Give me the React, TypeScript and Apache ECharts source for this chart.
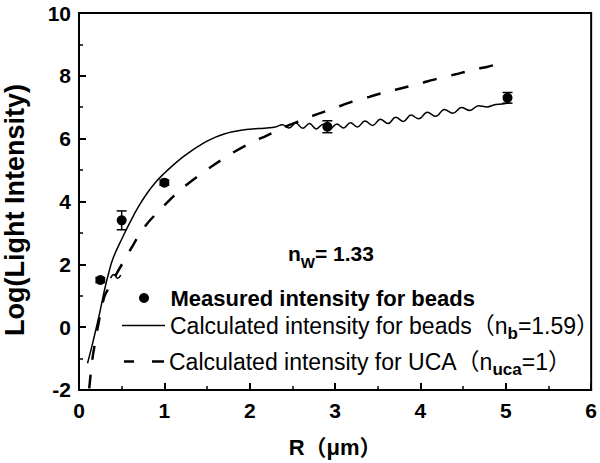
import React, { useEffect, useRef } from 'react';
import * as echarts from 'echarts';

const FONT = '"Liberation Sans", Arial, "Noto Sans CJK SC", sans-serif';

// Measured intensity for beads
const measuredR = [0.25, 0.5, 1.0, 2.91, 5.02];
const measuredLog = [1.5, 3.4, 4.6, 6.38, 7.3];
const measuredErr = [0.08, 0.3, 0.08, 0.19, 0.17];

// Calculated intensity for beads (solid)
const beadsR = [0.10, 0.15, 0.20, 0.25, 0.30, 0.35, 0.40, 0.50, 0.60, 0.70, 0.80, 0.90, 1.00, 1.10, 1.20, 1.30, 1.40,
  1.50, 1.60, 1.70, 1.80, 1.90, 2.00, 2.10, 2.20,
  2.30, 2.38, 2.46, 2.54, 2.62, 2.70, 2.78, 2.86, 2.94, 3.02, 3.10, 3.18, 3.26, 3.35, 3.44, 3.53, 3.62, 3.71, 3.80,
  3.89, 3.98, 4.08, 4.18, 4.28, 4.38, 4.48, 4.58, 4.68, 4.78, 4.88, 4.96, 5.04];
const beadsLog = [-1.15, -0.62, -0.05, 0.55, 1.2, 1.75, 2.2, 2.8, 3.35, 3.85, 4.27, 4.62, 4.9, 5.15, 5.38, 5.58, 5.76,
  5.92, 6.05, 6.15, 6.22, 6.27, 6.30, 6.32, 6.34,
  6.37, 6.44, 6.34, 6.50, 6.33, 6.48, 6.31, 6.46, 6.31, 6.47, 6.34, 6.51, 6.37, 6.56, 6.42, 6.62, 6.48, 6.68, 6.55,
  6.75, 6.63, 6.84, 6.71, 6.93, 6.81, 6.99, 6.90, 7.05, 7.01, 7.09, 7.10, 7.14];

// small squiggle of the solid curve
const squiggleR = [0.37, 0.41, 0.45, 0.49];
const squiggleLog = [1.56, 1.68, 1.56, 1.66];

// Calculated intensity for UCA (dashed)
const ucaR = [0.12, 0.15, 0.18, 0.22, 0.26, 0.30, 0.35, 0.45, 0.55, 0.62, 0.70, 0.80, 0.90, 1.00, 1.10, 1.20, 1.40, 1.60,
  1.80, 2.00, 2.20, 2.40, 2.60, 2.80, 3.00, 3.20, 3.40, 3.60, 3.80, 4.00, 4.20, 4.40, 4.60, 4.80, 4.92];
const ucaLog = [-1.95, -1.15, -0.62, 0.0, 0.55, 1.0, 1.25, 1.75, 2.22, 2.55, 2.92, 3.3, 3.6, 3.88, 4.15, 4.4, 4.82, 5.2,
  5.55, 5.85, 6.1, 6.36, 6.58, 6.79, 6.98, 7.18, 7.33, 7.49, 7.62, 7.76, 7.91, 8.04, 8.18, 8.3, 8.38];

const NAME1 = 'Measured intensity for beads';
const NAME2 = 'Calculated intensity for beads';
const NAME3 = 'Calculated intensity for UCA';

const zip = (a: number[], b: number[]) => a.map((v, i) => [v, b[i]]);

export default function App() {
  const ref = useRef<HTMLDivElement>(null);
  useEffect(() => {
    const chart = echarts.init(ref.current!, undefined, { renderer: 'svg' });
    const subRich = {
      t: { fontSize: 23, fontFamily: FONT, color: '#000', lineHeight: 32, verticalAlign: 'middle' },
      s: { fontSize: 17, fontWeight: 'bold', fontFamily: FONT, color: '#000', lineHeight: 17, verticalAlign: 'bottom' },
    };
    const axisCommon = {
      axisLine: { show: true, onZero: false, lineStyle: { color: '#000', width: 2 } },
      axisTick: { show: true, inside: true, length: 7, lineStyle: { color: '#000', width: 2 } },
      minorTick: { show: true, splitNumber: 2, length: 4, lineStyle: { color: '#000', width: 1.5 } },
      splitLine: { show: false },
      axisLabel: { color: '#000', fontSize: 21, fontWeight: 'bold', fontFamily: FONT },
    };
    chart.setOption({
      animation: false,
      backgroundColor: '#fff',
      grid: { left: 79, right: 7, top: 13, bottom: 67, show: true, borderColor: '#000', borderWidth: 2, backgroundColor: 'transparent' },
      xAxis: {
        type: 'value', min: 0, max: 6, interval: 1,
        ...axisCommon,
        axisLabel: { ...axisCommon.axisLabel, margin: 10 },
        name: 'R（μm）', nameLocation: 'middle', nameGap: 46,
        nameTextStyle: { color: '#000', fontSize: 22, fontWeight: 'bold', fontFamily: FONT },
      },
      yAxis: {
        type: 'value', min: -2, max: 10, interval: 2,
        ...axisCommon,
        axisLabel: { ...axisCommon.axisLabel, margin: 8 },
      },
      legend: [
        {
          data: [{ name: NAME1, icon: 'circle' }], left: 139, top: 287, padding: 0,
          itemWidth: 43, itemHeight: 10, selectedMode: false,
          textStyle: { color: '#000', fontSize: 22, fontWeight: 'bold', fontFamily: FONT },
        },
        {
          data: [{ name: NAME2, icon: 'path://M0,0H43V1.5H0Z' }], left: 122, top: 314, padding: 0,
          itemWidth: 43, itemHeight: 1.5, selectedMode: false,
          formatter: () => '{t|Calculated intensity for beads（n}{s|b}{t|=1.59）}',
          textStyle: { color: '#000', fontFamily: FONT, rich: subRich },
        },
        {
          data: [{ name: NAME3, icon: 'path://M0,0H10V2.5H0Z M28,0H40V2.5H28Z' }], left: 124, top: 350, padding: 0,
          itemWidth: 40, itemHeight: 2.5, selectedMode: false,
          formatter: () => '{t|Calculated intensity for UCA（n}{s|uca}{t|=1）}',
          textStyle: { color: '#000', fontFamily: FONT, rich: subRich },
        },
      ],
      graphic: [
        {
          type: 'text', x: 288, y: 253,
          style: {
            text: '{n|n}{s|W}{n|= 1.33}',
            align: 'left', verticalAlign: 'middle',
            rich: {
              n: { fontSize: 21, fontWeight: 'bold', fontFamily: FONT, fill: '#000', lineHeight: 34, verticalAlign: 'middle' },
              s: { fontSize: 15, fontWeight: 'bold', fontFamily: FONT, fill: '#000', lineHeight: 15, verticalAlign: 'bottom' },
            },
          },
        },
        {
          type: 'text', x: 15, y: 210, rotation: Math.PI / 2,
          style: {
            text: 'Log(Light Intensity)', align: 'center', verticalAlign: 'middle',
            fontSize: 27, fontWeight: 'bold', fontFamily: FONT, fill: '#000',
          },
        },
      ],
      series: [
        {
          name: NAME2, type: 'line', data: zip(beadsR, beadsLog), smooth: 0.4, symbol: 'none',
          lineStyle: { color: '#000', width: 1.5 }, itemStyle: { color: '#000' }, z: 3,
        },
        {
          name: 'squiggle', type: 'line', data: zip(squiggleR, squiggleLog), smooth: 0.5, symbol: 'none',
          lineStyle: { color: '#000', width: 1.5 }, itemStyle: { color: '#000' }, z: 3,
        },
        {
          name: NAME3, type: 'line', data: zip(ucaR, ucaLog), smooth: 0.3, symbol: 'none',
          lineStyle: { color: '#000', width: 2.5, type: [14, 15] }, itemStyle: { color: '#000' }, z: 3,
        },
        {
          name: 'errors', type: 'custom', z: 4,
          data: measuredR.map((r, i) => [r, measuredLog[i], measuredErr[i]]),
          encode: { x: 0, y: 1 },
          renderItem: (params: any, api: any) => {
            const x = api.value(0), y = api.value(1), e = api.value(2);
            const hi = api.coord([x, y + e]);
            const lo = api.coord([x, y - e]);
            const w = 5;
            const st = { stroke: '#000', lineWidth: 1.5 };
            return {
              type: 'group',
              children: [
                { type: 'line', shape: { x1: hi[0], y1: hi[1], x2: lo[0], y2: lo[1] }, style: st },
                { type: 'line', shape: { x1: hi[0] - w, y1: hi[1], x2: hi[0] + w, y2: hi[1] }, style: st },
                { type: 'line', shape: { x1: lo[0] - w, y1: lo[1], x2: lo[0] + w, y2: lo[1] }, style: st },
              ],
            };
          },
        },
        {
          name: NAME1, type: 'scatter', data: zip(measuredR, measuredLog), symbol: 'circle', symbolSize: 10,
          itemStyle: { color: '#000', opacity: 1 }, z: 5,
        },
      ],
    });
    return () => chart.dispose();
  }, []);
  return <div ref={ref} style={{ position: 'absolute', left: 0, top: 0, width: 600, height: 463, background: '#fff' }} />;
}
